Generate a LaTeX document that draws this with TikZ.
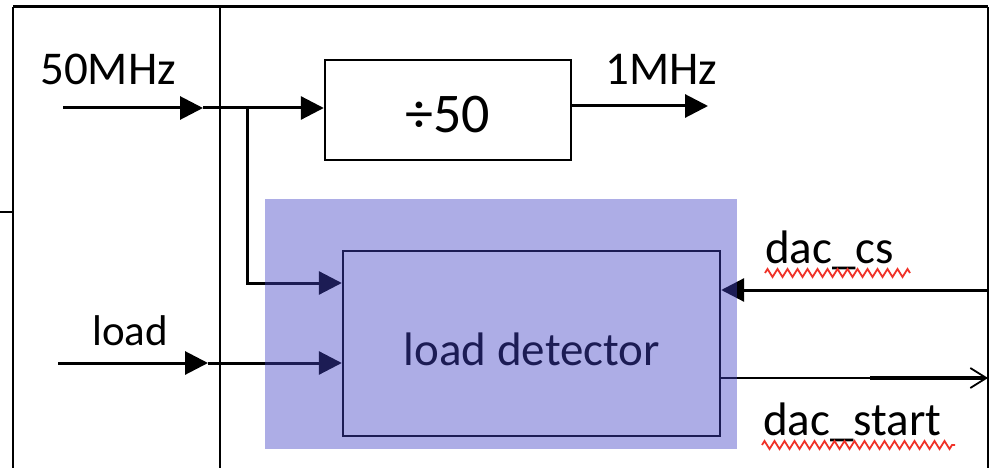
\documentclass[tikz,border=0pt]{standalone}
\usepackage{fontspec}
\setmainfont{Carlito}
\usetikzlibrary{arrows.meta,decorations.pathmorphing}
\definecolor{purpfill}{RGB}{65,65,197}
\definecolor{squig}{RGB}{240,50,40}
\begin{document}
\begin{tikzpicture}[x=1pt,y=-1pt,
  wire/.style={line width=3pt},
  tri/.style={-{Triangle[length=23pt,width=23pt]}},
  barb/.style={-{Straight Barb[length=16pt,width=20pt,line width=1.8pt]}},
  frame/.style={line width=2.2pt},
  lbl/.style={inner sep=0pt,font=\fontsize{47}{50}\selectfont},
  squiggle/.style={draw=squig,line width=1.8pt,decorate,decoration={zigzag,amplitude=4pt,segment length=10pt}},
  blockbox/.style={draw,line width=2.4pt,inner sep=0pt}]
\useasboundingbox (0,0) rectangle (993,468);
% frame
\draw[frame,line width=3pt] (13,7) -- (988,7);
\draw[frame] (13,7) -- (13,468);
\draw[frame] (220,7) -- (220,468);
\draw[frame] (988,7) -- (988,468);
\draw[line width=1.6pt] (0,212) -- (13,212);
% blocks
\node[blockbox,minimum width=246pt,minimum height=100pt] (div) at (448,110) {};
\node[inner sep=0pt,anchor=base,font=\fontsize{56}{60}\selectfont] (divtxt) at (448,133) {÷50};
\node[blockbox,minimum width=377pt,minimum height=185pt] (det) at (531.5,343.5) {};
\node[lbl,anchor=base] (dettxt) at (532,365) {load detector};
% labels
\node[lbl,anchor=base west] (l50) at (40,85) {50MHz};
\node[lbl,anchor=base west] (l1) at (605,85) {1MHz};
\node[lbl,anchor=base west,font=\fontsize{43}{46}\selectfont] (lload) at (92,345) {load};
\node[lbl,anchor=base west] (lcs) at (765,263) {dac\_cs};
\node[lbl,anchor=base west] (lst) at (763,435) {dac\_start};
\draw[squiggle] (765,273) -- (910,273);
\draw[squiggle] (762,445) -- (955,445);
% wires
\coordinate (in50) at (63,108);
\coordinate (j50) at (203,108);
\coordinate (br) at (247,106);
\coordinate (bend) at (247,283);
\coordinate (inload) at (58,363);
\coordinate (jload) at (208,363);
\coordinate (out1) at (708,106);
\coordinate (cs) at (988,290);
\coordinate (st) at (988,378);
\coordinate (stb) at (870,378);
\draw[wire,tri] (in50) -- (j50);
\draw[wire,tri] (j50) -- (div.west |- j50);
\draw[wire,tri] (br) -- (bend) -- (det.west |- bend);
\draw[wire,tri] (inload) -- (jload);
\draw[wire,tri] (jload) -- (det.west |- jload);
\draw[wire,tri] (div.east |- out1) -- (out1);
\draw[wire,tri] (cs) -- (det.east |- cs);
\draw[line width=2.2pt,barb] (det.east |- st) -- (st);
\draw[line width=3.2pt] (stb) -- ([xshift=-4pt]st);
% translucent highlight
\fill[purpfill,fill opacity=0.43] (265,199) rectangle (737,449);
\end{tikzpicture}
\end{document}
